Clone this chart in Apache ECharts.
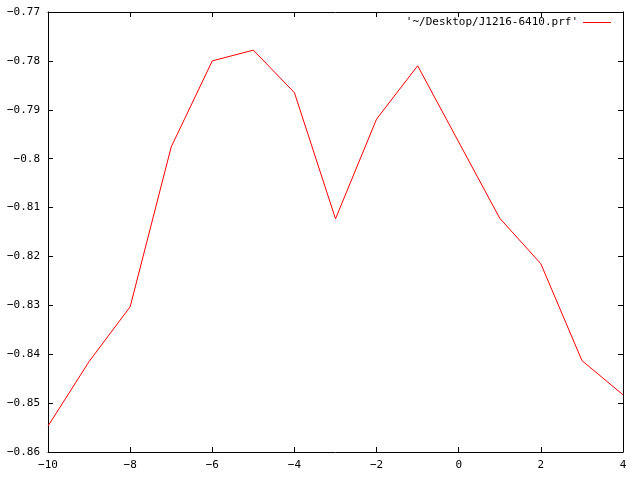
<!DOCTYPE html>
<html><head><meta charset="utf-8">
<script src="https://cdn.jsdelivr.net/npm/echarts@6/dist/echarts.min.js"></script>
<style>html,body{margin:0;padding:0;background:#fff}#c{width:640px;height:480px}</style>
</head><body><div id="c"></div>
<script>
const xValues = [-10, -9, -8, -7, -6, -5, -4, -3, -2, -1, 0, 1, 2, 3, 4];
const yValues = [-0.8547, -0.8415, -0.8303, -0.7976, -0.7800, -0.7778, -0.7865, -0.8123, -0.7919, -0.7810, -0.7966, -0.8122, -0.8215, -0.8413, -0.8483];
const seriesName = "'~/Desktop/J1216-6410.prf'";

const chart = echarts.init(document.getElementById('c'), null, {renderer: 'canvas'});
const font = 'DejaVu Sans Mono';
const fmt = v => String(parseFloat(v.toFixed(2))).replace('-', '\u2212');
const axisCommon = {
  axisLine: {show: true, onZero: false, lineStyle: {color: '#000', width: 1}},
  axisTick: {show: true, inside: true, length: 5, lineStyle: {color: '#000'}},
  splitLine: {show: false}
};
chart.setOption({
  animation: false,
  backgroundColor: '#fff',
  grid: {left: 48, right: 17, top: 12, bottom: 28, containLabel: false},
  legend: {
    show: true, right: 24, top: 12, itemWidth: 28, itemHeight: 1, itemGap: 4,
    icon: 'rect',
    data: [{name: seriesName, icon: 'rect'}],
    align: 'right',
    textStyle: {fontFamily: font, fontSize: 11, color: '#000'},
    formatter: n => n
  },
  xAxis: [
    Object.assign({type: 'value', min: -10, max: 4, interval: 2, position: 'bottom',
      axisLabel: {color: '#000', fontFamily: font, fontSize: 11, margin: 8, formatter: fmt}}, axisCommon),
    Object.assign({type: 'value', min: -10, max: 4, interval: 2, position: 'top',
      axisLabel: {show: false}}, axisCommon)
  ],
  yAxis: [
    Object.assign({type: 'value', min: -0.86, max: -0.77, interval: 0.01, position: 'left',
      axisLabel: {color: '#000', fontFamily: font, fontSize: 11, margin: 8, formatter: fmt}}, axisCommon),
    Object.assign({type: 'value', min: -0.86, max: -0.77, interval: 0.01, position: 'right',
      axisLabel: {show: false}}, axisCommon)
  ],
  series: [{
    name: seriesName,
    type: 'line',
    data: xValues.map((x, i) => [x, yValues[i]]),
    showSymbol: false,
    symbol: 'none',
    lineStyle: {color: '#ff0000', width: 1},
    itemStyle: {color: '#ff0000'},
    xAxisIndex: 0, yAxisIndex: 0
  }]
});
</script></body></html>
